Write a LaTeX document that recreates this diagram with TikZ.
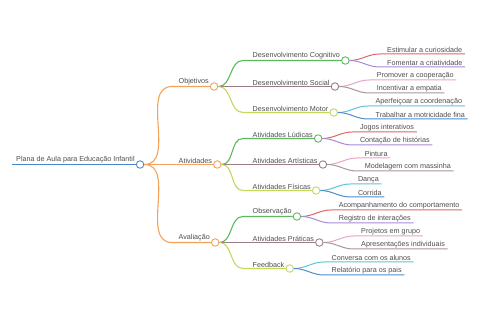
\documentclass[tikz,border=0pt]{standalone}
\usepackage{fontspec}
\setmainfont{Liberation Sans}
\usetikzlibrary{positioning,calc}

\definecolor{txtgray}{HTML}{4D4D4D}
\definecolor{rootblue}{HTML}{4A89C8}
\definecolor{orangeb}{HTML}{F4A259}
\definecolor{greenb}{HTML}{5DB95D}
\definecolor{mauveb}{HTML}{9B7D8A}
\definecolor{limeb}{HTML}{C5D85A}
\definecolor{leafred}{HTML}{E06666}
\definecolor{leafpurple}{HTML}{A58BD6}
\definecolor{leafpink}{HTML}{E8A3C9}
\definecolor{leafgray}{HTML}{A8959E}
\definecolor{leafcyan}{HTML}{5BC4DC}
\definecolor{leafblue}{HTML}{4A8FCC}

\tikzset{
	lbl/.style={font=\fontsize{7.2}{8}\selectfont, text=txtgray, inner sep=1pt, anchor=south west},
	leaf/.style={lbl, inner xsep=2.5pt},
	dot/.style={circle, draw, fill=white, line width=0.9pt, minimum size=7.5pt, inner sep=0pt},
	branch/.style={line width=1.1pt},
}

\begin{document}
\begin{tikzpicture}[x=1pt,y=-1pt]
	\useasboundingbox (0,0) rectangle (480,320);
	
	% Root
	\coordinate (start) at (12,164.5);
	\node[lbl] (root) at (15,164.5) {Plana de Aula para Educação Infantil};
	\node[dot, draw=rootblue, right=0pt of root.south east] (rootd) {};
	\draw[branch, rootblue] (start) -- (rootd);
	
	% Level 1 (orange)
	\foreach \n/\txt/\y in {obj/Objetivos/86.5, ativ/Atividades/164.5, aval/Avaliação/242.5} {
		\node[lbl] (\n) at (177.5,\y) {\txt};
		\node[dot, draw=orangeb, right=0pt of \n.south east] (\n d) {};
		\draw[branch, orangeb] (rootd.east) to[out=0,in=180] (172,\y) -- (\n d);
	}
	
	% Level 2
	\foreach \p/\n/\txt/\y/\c in {obj/cog/Desenvolvimento Cognitivo/60.5/greenb,
			obj/soc/Desenvolvimento Social/86.5/mauveb,
			obj/mot/Desenvolvimento Motor/112.5/limeb,
			ativ/lud/Atividades Lúdicas/138.5/greenb,
			ativ/art/Atividades Artísticas/164.5/mauveb,
			ativ/fis/Atividades Físicas/190.5/limeb,
			aval/obs/Observação/216.5/greenb,
			aval/prat/Atividades Práticas/242.5/mauveb,
			aval/feed/Feedback/268.5/limeb} {
		\node[lbl] (\n) at (251.5,\y) {\txt};
		\node[dot, draw=\c, right=0pt of \n.south east] (\n d) {};
		\draw[branch, \c] (\p d.east) to[out=0,in=180] (243,\y) -- (\n d);
	}
	
	% Leaves
	\foreach \p/\txt/\k/\c in {cog/Estimular a curiosidade/0/leafred,
			cog/Fomentar a criatividade/1/leafpurple,
			soc/Promover a cooperação/2/leafpink,
			soc/Incentivar a empatia/3/leafgray,
			mot/Aperfeiçoar a coordenação/4/leafcyan,
			mot/Trabalhar a motricidade fina/5/leafblue,
			lud/Jogos interativos/6/leafred,
			lud/Contação de histórias/7/leafpurple,
			art/Pintura/8/leafpink,
			art/Modelagem com massinha/9/leafgray,
			fis/Dança/10/leafcyan,
			fis/Corrida/11/leafblue,
			obs/Acompanhamento do comportamento/12/leafred,
			obs/Registro de interações/13/leafpurple,
			prat/Projetos em grupo/14/leafpink,
			prat/Apresentações individuais/15/leafgray,
			feed/Conversa com os alunos/16/leafcyan,
			feed/Relatório para os pais/17/leafblue} {
		\coordinate (ly) at (0,54+13*\k);
		\coordinate (lb\k) at ($(\p d.east |- ly)+(30,0)$);
		\node[leaf] (leaf\k) at ($(lb\k)+(5,0)$) {\txt};
		\draw[line width=1pt, \c] (\p d.east) to[out=0,in=180] (lb\k) -- (leaf\k.south east);
	}
	
\end{tikzpicture}
\end{document}
